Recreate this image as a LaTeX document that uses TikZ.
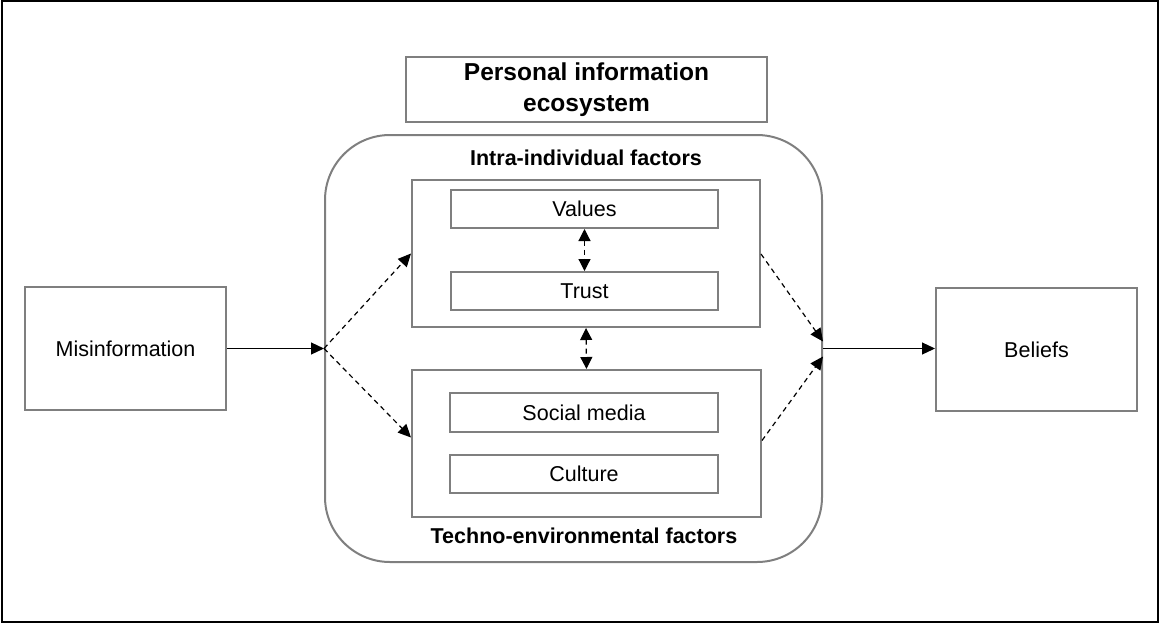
\documentclass[tikz,border=0pt]{standalone}
\usepackage{fontspec}
\setmainfont{Liberation Sans}
\usetikzlibrary{arrows.meta}
\definecolor{boxgray}{HTML}{7F7F7F}
\begin{document}
\begin{tikzpicture}[x=1pt,y=-1pt,
  box/.style={draw=boxgray,line width=2pt,rectangle,inner sep=0pt,align=center,font=\fontsize{21.5}{25}\selectfont},
  conn/.style={line width=1.2pt,-{Triangle[length=13pt,width=12pt]}},
  dconn/.style={conn,dash pattern=on 5pt off 4pt},
  dboth/.style={line width=1.2pt,dash pattern=on 5pt off 4pt,{Triangle[length=12pt,width=12pt]}-{Triangle[length=12pt,width=12pt]}},
  head/.style={font=\bfseries\fontsize{21.5}{25}\selectfont,inner sep=0pt,anchor=base}]
\useasboundingbox (0,0) rectangle (1161,624);
\node[draw=black,line width=2pt,minimum width=1156pt,minimum height=621pt,inner sep=0pt] (frame) at (580,311.5) {};
% title box
\node[box,minimum width=361pt,minimum height=65pt,font=\bfseries\fontsize{24.5}{31}\selectfont] (pie) at (586.5,89.5) {Personal information\\ecosystem};
% ecosystem rounded box
\node[draw=boxgray,line width=2pt,rounded corners=65pt,minimum width=497pt,minimum height=427pt,inner sep=0pt] (eco) at (573.5,348.5) {};
\node[head] (intralbl) at (586,165) {Intra-individual factors};
\node[head] (technolbl) at (584,543) {Techno-environmental factors};
% group boxes
\node[box,minimum width=348pt,minimum height=147pt] (intra) at (586,253.5) {};
\node[box,minimum width=349pt,minimum height=147pt] (techno) at (586.5,443.5) {};
% inner boxes
\node[box,minimum width=267pt,minimum height=38pt] (values) at (584.5,209) {Values};
\node[box,minimum width=267pt,minimum height=38pt] (trust) at (584.5,291) {Trust};
\node[box,minimum width=268pt,minimum height=39pt] (social) at (584,412.5) {Social media};
\node[box,minimum width=268pt,minimum height=38pt] (culture) at (584,474) {Culture};
% side boxes
\node[box,minimum width=201pt,minimum height=123pt] (misinfo) at (125.5,348.5) {Misinformation};
\node[box,minimum width=201pt,minimum height=123pt] (beliefs) at (1036.5,349.5) {Beliefs};
% junctions
\coordinate (jl) at (eco.west);
\coordinate (jr) at (eco.east);
% connectors
\draw[conn] (misinfo.east) -- (jl);
\draw[dconn] (jl) -- (intra.west);
\draw[dconn] (jl) -- ([yshift=6pt]techno.west);
\draw[dconn] ([yshift=-0.5pt]intra.east) -- ([yshift=7pt]jr);
\draw[dconn] ([yshift=3pt]techno.east) -- ([yshift=-8pt]jr);
\draw[conn] (jr) -- (jr -| beliefs.west);
\draw[dboth] (values.south) -- (trust.north);
\draw[dboth] (intra.south) -- (techno.north);
\end{tikzpicture}
\end{document}
